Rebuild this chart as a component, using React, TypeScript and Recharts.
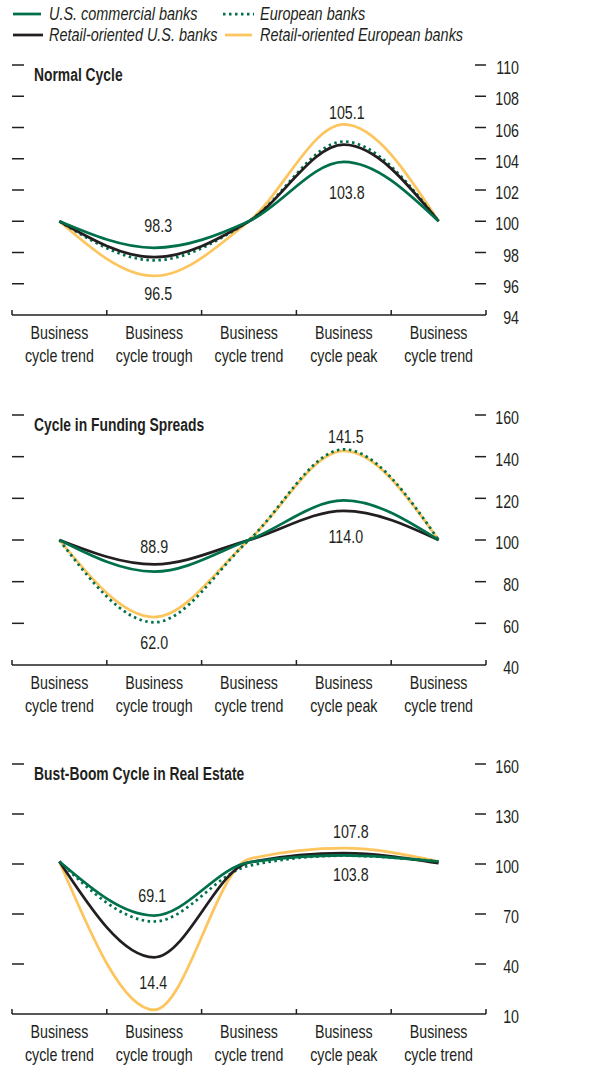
import React from 'react';
import { LineChart, Line, XAxis, YAxis, ReferenceDot } from 'recharts';

const categories = [
  'Business cycle trend',
  'Business cycle trough',
  'Business cycle trend',
  'Business cycle peak',
  'Business cycle trend',
];

// Normal cycle
const normalUsCommercial = [100, 98.3, 100, 103.8, 100];
const normalEuropean = [100, 97.5, 100, 105.1, 100];
const normalRetailUs = [100, 97.7, 100, 104.9, 100];
const normalRetailEu = [100, 96.5, 100, 106.2, 100];
const normalTicks = [94, 96, 98, 100, 102, 104, 106, 108, 110];

// Funding spreads
const fundingUsCommercial = [100, 84.8, 100, 119, 100];
const fundingEuropean = [100, 60.5, 100, 143.5, 100];
const fundingRetailUs = [100, 88.3, 100, 114.0, 100];
const fundingRetailEu = [100, 63, 100, 142.8, 100];
const fundingTicks = [40, 60, 80, 100, 120, 140, 160];

// Real estate
const estateUsCommercial = [101.5, 69.1, 101, 105.2, 101.5];
const estateEuropean = [101.5, 65.5, 99, 105, 101.5];
const estateRetailUs = [101.5, 44, 101, 106.5, 100.5];
const estateRetailEu = [101.5, 12.5, 103, 109.5, 101.5];
const estateTicks = [10, 40, 70, 100, 130, 160];

// point annotations: which series / category they hang off, and the printed value
const normalNotes = [
  { i: 1, series: 'usCommercial', text: '98.3' },
  { i: 1, series: 'retailEu', text: '96.5' },
  { i: 3, series: 'retailEu', text: '105.1' },
  { i: 3, series: 'usCommercial', text: '103.8' },
];
const fundingNotes = [
  { i: 1, series: 'retailUs', text: '88.9' },
  { i: 1, series: 'european', text: '62.0' },
  { i: 3, series: 'retailEu', text: '141.5' },
  { i: 3, series: 'retailUs', text: '114.0' },
];
const estateNotes = [
  { i: 1, series: 'usCommercial', text: '69.1' },
  { i: 1, series: 'retailEu', text: '14.4' },
  { i: 3, series: 'retailEu', text: '107.8' },
  { i: 3, series: 'usCommercial', text: '103.8' },
];

// [dx, dy] nudges for the annotation texts
const normalNoteOffsets = [[4, -22], [4, 18], [3, -12], [3, 31]];
const fundingNoteOffsets = [[0, -18], [0, 20], [2, -14], [2, 26]];
const estateNoteOffsets = [[-2, -20], [-1, -27], [7, -16], [7, 19]];

const GREEN = '#00704a';
const BLACK = '#231f20';
const YELLOW = '#fdc55e';
const TEXT = '#231f20';
const FONT = "'Liberation Sans', Arial, sans-serif";
const SX = 0.75; // condensed look
const LW = 2.75;

const CHART_W = 594;
const PLOT_LEFT = 12;
const PLOT_RIGHT = 486;
const PLOT_H = 250;
const MARGIN_TOP = 10;
const AXIS_H = 64;

function buildRows(us: number[], eu: number[], rus: number[], reu: number[]) {
  return categories.map((c, i) => ({
    x: i + 0.5,
    category: c,
    usCommercial: us[i],
    european: eu[i],
    retailUs: rus[i],
    retailEu: reu[i],
  }));
}

// narrow svg text (no condensed face installed, so squeeze it)
const NText = ({ x, y, anchor = 'middle', children }: any) => (
  <text
    transform={`translate(${x} ${y}) scale(${SX} 1)`}
    textAnchor={anchor}
    dominantBaseline="central"
    fill={TEXT}
    fontSize={19}
    fontFamily={FONT}
  >
    {children}
  </text>
);

const CategoryTick = (props: any) => {
  const { x, y, payload, index } = props;
  const band = (PLOT_RIGHT - PLOT_LEFT) / categories.length;
  const label = categories[Math.floor(payload.value)] || '';
  const sp = label.indexOf(' ');
  const first = label.slice(0, sp);
  const rest = label.slice(sp + 1);
  return (
    <g>
      <line x1={x - band / 2} x2={x - band / 2} y1={y} y2={y - 5} stroke={TEXT} strokeWidth={1.5} />
      {index === categories.length - 1 && (
        <line x1={x + band / 2} x2={x + band / 2} y1={y} y2={y - 5} stroke={TEXT} strokeWidth={1.5} />
      )}
      <NText x={x} y={y + 18}>{first}</NText>
      <NText x={x} y={y + 41}>{rest}</NText>
    </g>
  );
};

const makeValueTick = (min: number) => (props: any) => {
  const { x, y, payload } = props;
  const isMin = payload.value === min;
  return (
    <g>
      {!isMin && <line x1={PLOT_LEFT} x2={PLOT_LEFT + 12} y1={y} y2={y} stroke={TEXT} strokeWidth={1.5} />}
      {!isMin && <line x1={x - 11} x2={x} y1={y} y2={y} stroke={TEXT} strokeWidth={1.5} />}
      <NText x={x + 33} y={y + 3} anchor="end">{payload.value}</NText>
    </g>
  );
};

interface PanelProps {
  title: string;
  top: number;
  ticks: number[];
  us: number[];
  eu: number[];
  rus: number[];
  reu: number[];
  notes: { i: number; series: string; text: string }[];
  offsets: number[][];
}

function Panel({ title, top, ticks, us, eu, rus, reu, notes, offsets }: PanelProps) {
  const rows = buildRows(us, eu, rus, reu);
  const min = ticks[0];
  const max = ticks[ticks.length - 1];
  return (
    <div style={{ position: 'absolute', left: 0, top }}>
      <LineChart
        width={CHART_W}
        height={MARGIN_TOP + PLOT_H + AXIS_H}
        data={rows}
        margin={{ top: MARGIN_TOP, right: 0, bottom: 0, left: PLOT_LEFT }}
      >
        <XAxis
          dataKey="x"
          type="number"
          domain={[0, categories.length]}
          ticks={rows.map((r) => r.x)}
          interval={0}
          height={AXIS_H}
          tickSize={0}
          tickMargin={0}
          tickLine={false}
          axisLine={{ stroke: TEXT, strokeWidth: 1.5 }}
          tick={<CategoryTick />}
        />
        <YAxis
          orientation="right"
          type="number"
          domain={[min, max]}
          ticks={ticks}
          interval={0}
          width={CHART_W - PLOT_RIGHT}
          tickSize={0}
          tickMargin={0}
          tickLine={false}
          axisLine={false}
          allowDataOverflow
          tick={makeValueTick(min)}
        />
        <Line type="monotone" dataKey="retailEu" stroke={YELLOW} strokeWidth={LW} dot={false} isAnimationActive={false} />
        <Line
          type="monotone"
          dataKey="european"
          stroke={GREEN}
          strokeWidth={LW}
          strokeDasharray="2.5 3.5"
          dot={false}
          isAnimationActive={false}
        />
        <Line type="monotone" dataKey="retailUs" stroke={BLACK} strokeWidth={LW} dot={false} isAnimationActive={false} />
        <Line type="monotone" dataKey="usCommercial" stroke={GREEN} strokeWidth={LW} dot={false} isAnimationActive={false} />
        {notes.map((n, k) => (
          <ReferenceDot
            key={k}
            x={rows[n.i].x}
            y={(rows[n.i] as any)[n.series]}
            r={0}
            ifOverflow="visible"
            label={(p: any) => {
              const vb = p.viewBox || {};
              return (
                <NText x={vb.x + offsets[k][0]} y={vb.y + offsets[k][1]}>
                  {n.text}
                </NText>
              );
            }}
          />
        ))}
      </LineChart>
      <div
        style={{
          position: 'absolute',
          left: 34,
          top: MARGIN_TOP + 9.5 - 11,
          fontFamily: FONT,
          fontWeight: 'bold',
          fontSize: 18,
          lineHeight: '22px',
          color: TEXT,
          whiteSpace: 'nowrap',
          transform: 'scaleX(0.77)',
          transformOrigin: 'left center',
        }}
      >
        {title}
      </div>
    </div>
  );
}

const legendItems = [
  { name: 'U.S. commercial banks', color: GREEN, dotted: false, left: 13, top: 14, w: 28 },
  { name: 'European banks', color: GREEN, dotted: true, left: 223, top: 14, w: 31 },
  { name: 'Retail-oriented U.S. banks', color: BLACK, dotted: false, left: 13, top: 35, w: 30 },
  { name: 'Retail-oriented European banks', color: YELLOW, dotted: false, left: 225, top: 35, w: 27 },
];

export default function App() {
  return (
    <div style={{ position: 'absolute', left: 0, top: 0, width: 594, height: 1069, background: '#fff' }}>
      {legendItems.map((it) => (
        <div key={it.name}>
          <svg style={{ position: 'absolute', left: it.left, top: it.top - 2 }} width={it.w} height={4}>
            <line
              x1={0}
              x2={it.w}
              y1={2}
              y2={2}
              stroke={it.color}
              strokeWidth={LW}
              strokeDasharray={it.dotted ? '2.5 3.5' : undefined}
            />
          </svg>
          <div
            style={{
              position: 'absolute',
              left: it.left > 100 ? 260 : 49,
              top: it.top - 11,
              lineHeight: '22px',
              fontFamily: FONT,
              fontStyle: 'italic',
              fontSize: 19,
              color: TEXT,
              whiteSpace: 'nowrap',
              transform: 'scaleX(0.76)',
              transformOrigin: 'left center',
            }}
          >
            {it.name}
          </div>
        </div>
      ))}
      <Panel
        title="Normal Cycle"
        top={55}
        ticks={normalTicks}
        us={normalUsCommercial}
        eu={normalEuropean}
        rus={normalRetailUs}
        reu={normalRetailEu}
        notes={normalNotes}
        offsets={normalNoteOffsets}
      />
      <Panel
        title="Cycle in Funding Spreads"
        top={405}
        ticks={fundingTicks}
        us={fundingUsCommercial}
        eu={fundingEuropean}
        rus={fundingRetailUs}
        reu={fundingRetailEu}
        notes={fundingNotes}
        offsets={fundingNoteOffsets}
      />
      <Panel
        title="Bust-Boom Cycle in Real Estate"
        top={754}
        ticks={estateTicks}
        us={estateUsCommercial}
        eu={estateEuropean}
        rus={estateRetailUs}
        reu={estateRetailEu}
        notes={estateNotes}
        offsets={estateNoteOffsets}
      />
    </div>
  );
}
